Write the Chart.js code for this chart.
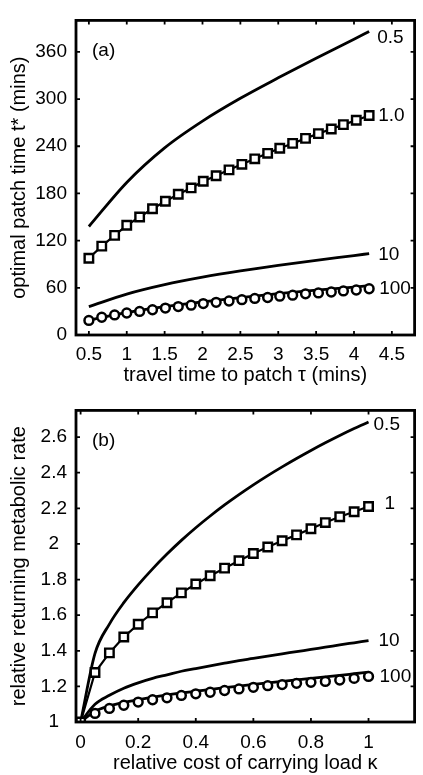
<!DOCTYPE html>
<html>
<head>
<meta charset="utf-8">
<script src="https://cdn.jsdelivr.net/npm/chart.js@4.4.0/dist/chart.umd.min.js"></script>
<style>
  body { margin: 0; background: #fff; }
  canvas { display: block; }
</style>
</head>
<body>
<canvas id="chartA" width="423" height="390"></canvas>
<canvas id="chartB" width="423" height="385"></canvas>
<script>
// panel (a): optimal patch time vs travel time
const tauLine = [0.5, 1, 1.5, 2, 2.5, 3, 3.5, 4, 4.2];
const patchTime05 = [138, 194, 238, 272, 301, 327, 352, 376, 386];
const patchTime10 = [36, 52, 64, 73.5, 81.5, 88.5, 95, 101, 103.5];
const patchTime100Line = [19, 28.5, 36, 42, 47.5, 52.5, 57, 61, 62.8];
const tauMarkers = [0.5, 0.67, 0.84, 1.0, 1.17, 1.34, 1.51, 1.68, 1.85, 2.01, 2.18, 2.35,
  2.52, 2.69, 2.86, 3.02, 3.19, 3.36, 3.53, 3.70, 3.86, 4.03, 4.2];
const patchTime1 = [97.5, 113, 126.7, 139.5, 150, 160.5, 170, 179, 187, 195.5, 202.5, 210,
  217, 224, 231, 237.4, 243.6, 250, 256, 262, 267.5, 273, 279];
const patchTime100 = [18.5, 22.6, 25.5, 28, 30, 32.1, 34.2, 36.2, 37.9, 39.9, 41.6, 43.2,
  44.9, 46.5, 47.7, 49.4, 50.6, 52.3, 53.5, 54.7, 56, 57.2, 58.8];
const tauTicks = [0.5, 1, 1.5, 2, 2.5, 3, 3.5, 4, 4.5];
const patchTicks = [0, 60, 120, 180, 240, 300, 360];

// panel (b): relative returning metabolic rate vs cost of carrying load
const kappa = [0, 0.05, 0.1, 0.15, 0.2, 0.25, 0.3, 0.35, 0.4, 0.45, 0.5, 0.55, 0.6, 0.65,
  0.7, 0.75, 0.8, 0.85, 0.9, 0.95, 1];
const rate05 = [1, 1.385, 1.55, 1.67, 1.77, 1.86, 1.943, 2.02, 2.091, 2.157, 2.219, 2.277,
  2.332, 2.384, 2.433, 2.48, 2.525, 2.568, 2.609, 2.648, 2.685];
const rate1 = [1, 1.278, 1.388, 1.477, 1.549, 1.613, 1.67, 1.725, 1.775, 1.821, 1.864,
  1.906, 1.946, 1.983, 2.018, 2.051, 2.085, 2.12, 2.153, 2.181, 2.21];
const rate10 = [1, 1.1, 1.15, 1.19, 1.22, 1.245, 1.265, 1.285, 1.3, 1.315, 1.33, 1.345,
  1.357, 1.37, 1.383, 1.395, 1.408, 1.42, 1.433, 1.445, 1.457];
const rate100Line = [1, 1.06, 1.09, 1.11, 1.125, 1.14, 1.152, 1.163, 1.173, 1.183, 1.193,
  1.202, 1.211, 1.22, 1.228, 1.237, 1.245, 1.254, 1.262, 1.271, 1.28];
const kappaCircles = kappa.slice(1);
const rate100 = [1.048, 1.076, 1.094, 1.112, 1.125, 1.136, 1.149, 1.158, 1.167, 1.177,
  1.186, 1.195, 1.204, 1.21, 1.217, 1.223, 1.228, 1.236, 1.245, 1.256];
const kappaTicks = [0, 0.2, 0.4, 0.6, 0.8, 1];
const rateTicks = [1, 1.2, 1.4, 1.6, 1.8, 2, 2.2, 2.4, 2.6];

const FONT = "'Liberation Sans', Arial, sans-serif";

function pts(xs, ys) {
  return xs.map((x, i) => ({ x: x, y: ys[i] }));
}

function curve(xs, ys, label) {
  return {
    label: label, data: pts(xs, ys), borderColor: '#000', borderWidth: 2.8,
    pointRadius: 0, cubicInterpolationMode: 'monotone', order: 2, endLabel: label
  };
}

function squares(xs, ys, label) {
  return {
    label: label, data: pts(xs, ys), borderColor: '#000', borderWidth: 2.2,
    pointStyle: 'rect', pointRadius: 6, pointBorderWidth: 2.4,
    pointBackgroundColor: '#fff', pointBorderColor: '#000', order: 0, endLabel: label
  };
}

function circles(xs, ys, label) {
  return {
    label: label, data: pts(xs, ys), showLine: false, borderColor: '#000',
    pointStyle: 'circle', pointRadius: 4.4, pointBorderWidth: 2.5,
    pointBackgroundColor: '#fff', pointBorderColor: '#000', order: 1, endLabel: label
  };
}

// frame, inward ticks, curve labels and panel letter
const framePlugin = {
  id: 'frame',
  afterDraw(chart, args, opts) {
    const ctx = chart.ctx;
    const a = chart.chartArea;
    const xs = chart.scales.x, ys = chart.scales.y;
    ctx.save();
    ctx.strokeStyle = '#000';
    ctx.lineWidth = 1.8;
    const tl = 4;
    xs.ticks.forEach(t => {
      const px = xs.getPixelForValue(t.value);
      ctx.beginPath();
      ctx.moveTo(px, a.bottom); ctx.lineTo(px, a.bottom - tl);
      ctx.moveTo(px, a.top); ctx.lineTo(px, a.top + tl);
      ctx.stroke();
    });
    ys.ticks.forEach(t => {
      const py = ys.getPixelForValue(t.value);
      ctx.beginPath();
      ctx.moveTo(a.left, py); ctx.lineTo(a.left + tl, py);
      ctx.moveTo(a.right, py); ctx.lineTo(a.right - tl, py);
      ctx.stroke();
    });
    ctx.lineWidth = 2.8;
    ctx.strokeRect(a.left, a.top, a.right - a.left, a.bottom - a.top);

    ctx.fillStyle = '#000';
    ctx.font = '19px ' + FONT;
    ctx.textBaseline = 'middle';
    ctx.textAlign = 'left';
    ctx.fillText(opts.panel, a.left + 16, a.top + 30);
    chart.data.datasets.forEach(ds => {
      const lab = opts.labels[ds.endLabel];
      if (!lab) return;
      const last = ds.data[ds.data.length - 1];
      const px = xs.getPixelForValue(last.x);
      const py = ys.getPixelForValue(last.y);
      ctx.fillText(lab.text, px + lab.dx, py + lab.dy);
    });
    ctx.restore();
  }
};

function axes(xMin, xMax, xTicks, xTitle, xPad, titlePad, yMin, yMax, yTicks, yTitle, yAlign) {
  const tickFont = { family: FONT, size: 19 };
  const titleFont = { family: FONT, size: 20 };
  return {
    x: {
      type: 'linear', min: xMin, max: xMax,
      grid: { display: false, drawTicks: false }, border: { display: false },
      afterBuildTicks: s => { s.ticks = xTicks.map(v => ({ value: v })); },
      afterFit: s => { s.height = s.chart.height - s.chart.options.plotBottom; },
      ticks: { font: tickFont, color: '#000', padding: xPad, maxRotation: 0, autoSkip: false,
        callback: v => String(v) },
      title: { display: true, text: xTitle, font: titleFont, color: '#000',
        padding: { top: 0, bottom: titlePad } }
    },
    y: {
      type: 'linear', min: yMin, max: yMax,
      grid: { display: false, drawTicks: false }, border: { display: false },
      afterBuildTicks: s => { s.ticks = yTicks.map(v => ({ value: v })); },
      afterFit: s => { s.width = 76; },
      ticks: { font: tickFont, color: '#000', padding: 9, crossAlign: yAlign,
        callback: v => String(v) },
      title: { display: true, text: yTitle, font: titleFont, color: '#000',
        padding: { top: 7, bottom: 0 } }
    }
  };
}

Chart.defaults.animation = false;

new Chart(document.getElementById('chartA'), {
  type: 'line',
  data: {
    datasets: [
      curve(tauLine, patchTime05, '0.5'),
      squares(tauMarkers, patchTime1, '1.0'),
      curve(tauLine, patchTime10, '10'),
      curve(tauLine, patchTime100Line, 'line100'),
      circles(tauMarkers, patchTime100, '100')
    ]
  },
  options: {
    responsive: false,
    devicePixelRatio: 1,
    plotBottom: 335,
    layout: { padding: { left: 0, top: 12, right: 2, bottom: 0 } },
    plugins: {
      legend: { display: false },
      tooltip: { enabled: false },
      frame: {
        panel: '(a)',
        labels: {
          '0.5': { text: '0.5', dx: 8, dy: 6 },
          '1.0': { text: '1.0', dx: 9, dy: 0 },
          '10': { text: '10', dx: 9, dy: 1 },
          '100': { text: '100', dx: 10, dy: 0 }
        }
      }
    },
    scales: axes(0.33, 4.8, tauTicks, 'travel time to patch \u03c4 (mins)', 8, 3,
      0, 400, patchTicks, 'optimal patch time t* (mins)', 'near')
  },
  plugins: [framePlugin]
});

new Chart(document.getElementById('chartB'), {
  type: 'line',
  data: {
    datasets: [
      curve(kappa, rate05, '0.5'),
      squares(kappa, rate1, '1'),
      curve(kappa, rate10, '10'),
      curve(kappa, rate100Line, 'line100'),
      circles(kappaCircles, rate100, '100')
    ]
  },
  options: {
    responsive: false,
    devicePixelRatio: 1,
    plotBottom: 332,
    layout: { padding: { left: 0, top: 14, right: 2, bottom: 0 } },
    plugins: {
      legend: { display: false },
      tooltip: { enabled: false },
      frame: {
        panel: '(b)',
        labels: {
          '0.5': { text: '0.5', dx: 5, dy: 3 },
          '1': { text: '1', dx: 16, dy: -3 },
          '10': { text: '10', dx: 10, dy: 0 },
          '100': { text: '100', dx: 11, dy: 0 }
        }
      }
    },
    scales: axes(-0.016, 1.16, kappaTicks, 'relative cost of carrying load \u03ba', 9, 0,
      1, 2.75, rateTicks, 'relative returning metabolic rate', 'center')
  },
  plugins: [framePlugin]
});
</script>
</body>
</html>
